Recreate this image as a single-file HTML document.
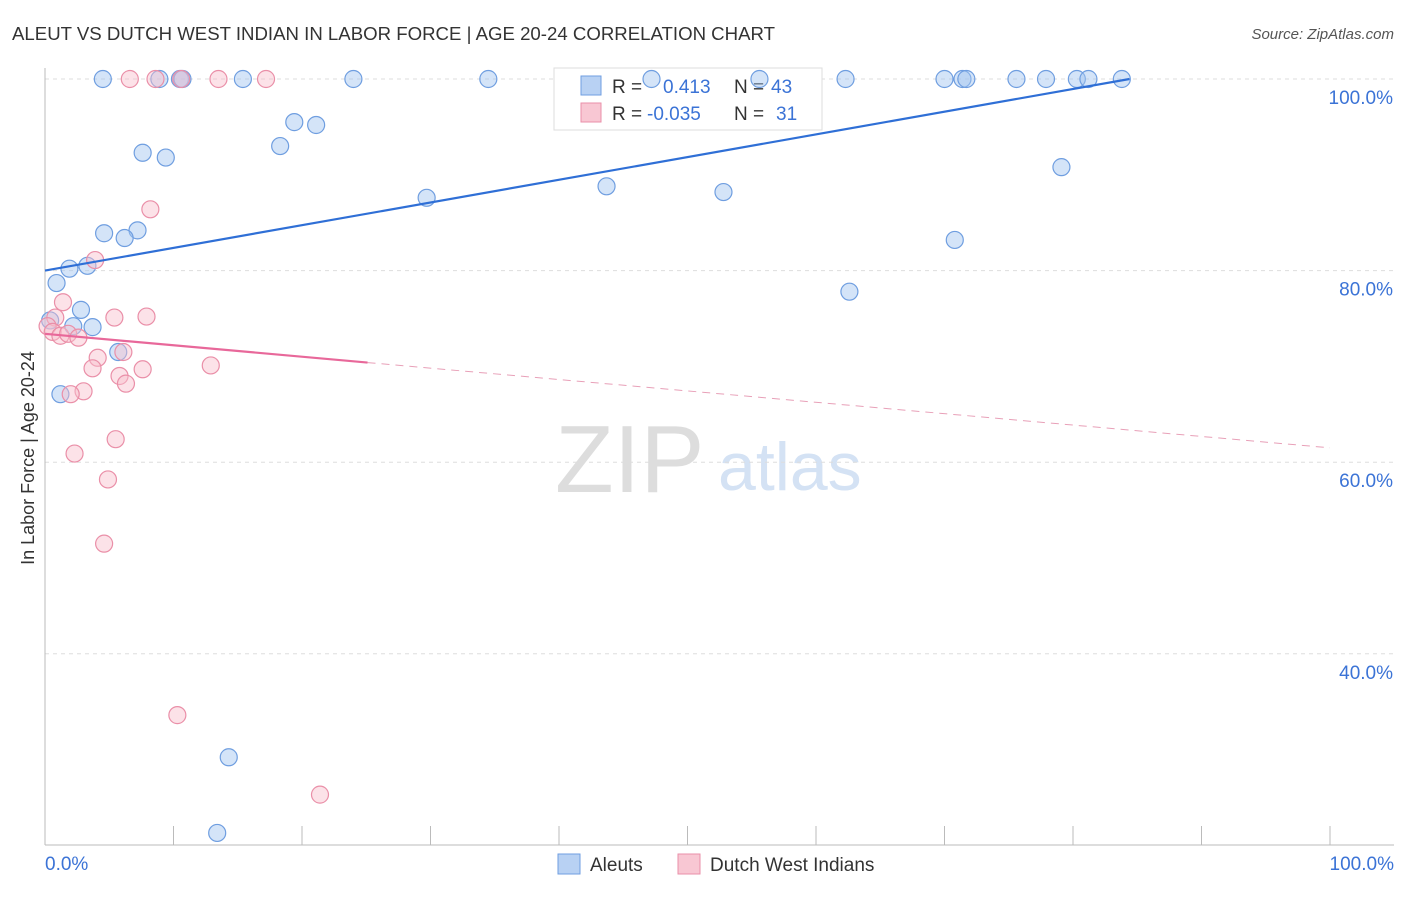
<!DOCTYPE html>
<html><head><meta charset="utf-8"><style>
body{margin:0;background:#fff;font-family:"Liberation Sans",sans-serif}
svg text{font-family:"Liberation Sans",sans-serif}
</style></head><body>
<svg id="c" width="1406" height="892">
<text x="12" y="40" font-size="18.5" fill="#333" textLength="763" lengthAdjust="spacingAndGlyphs">ALEUT VS DUTCH WEST INDIAN IN LABOR FORCE | AGE 20-24 CORRELATION CHART</text>
<text x="1394" y="39" font-size="15" fill="#555" font-style="italic" text-anchor="end">Source: ZipAtlas.com</text>
<text x="34" y="458" font-size="18" fill="#333" text-anchor="middle" transform="rotate(-90 34 458)">In Labor Force | Age 20-24</text>
<text x="555" y="492" font-size="96" fill="#ddd" font-family="Liberation Serif">ZIP</text>
<text x="718" y="490" font-size="68" fill="#d4e2f4">atlas</text>
<g id="grid"></g>
<g>
<rect x="554" y="68" width="268" height="62" fill="#fff" stroke="#ddd"/>
<rect x="581" y="76" width="20" height="19" fill="#b8d1f3" stroke="#6f9ee0"/>
<rect x="581" y="103" width="20" height="19" fill="#f8c7d3" stroke="#ea8fa8"/>
<text x="612" y="93" font-size="19" fill="#333">R = </text><text x="663" y="93" font-size="19" fill="#3b73d6">0.413</text>
<text x="734" y="93" font-size="19" fill="#333">N = </text><text x="771" y="93" font-size="19" fill="#3b73d6">43</text>
<text x="612" y="120" font-size="19" fill="#333">R = </text><text x="647" y="120" font-size="19" fill="#3b73d6">-0.035</text>
<text x="734" y="120" font-size="19" fill="#333">N = </text><text x="776" y="120" font-size="19" fill="#3b73d6">31</text>
</g>
<g id="pts"></g><g id="trend"></g>
<g>
<rect x="558" y="854" width="22" height="20" fill="#b8d1f3" stroke="#6f9ee0"/>
<text x="590" y="871" font-size="19" fill="#333">Aleuts</text>
<rect x="678" y="854" width="22" height="20" fill="#f8c7d3" stroke="#ea8fa8"/>
<text x="710" y="871" font-size="19" fill="#333">Dutch West Indians</text>
</g>
</svg>
<script>
const blueX=[4.5,8.9,10.5,10.7,15.4,24.0,34.5,47.2,55.6,62.3,70.0,71.4,71.7,75.6,77.9,80.3,81.2,83.8,19.4,21.1,18.3,7.6,9.4,79.1,43.7,52.8,29.7,7.2,4.6,6.2,70.8,1.9,3.3,0.9,62.6,2.8,0.4,2.2,3.7,5.7,1.2,14.3,13.4];
const blueY=[100,100,100,100,100,100,100,100,100,100,100,100,100,100,100,100,100,100,95.5,95.2,93.0,92.3,91.8,90.8,88.8,88.2,87.6,84.2,83.9,83.4,83.2,80.2,80.5,78.7,77.8,75.9,74.8,74.2,74.1,71.5,67.1,29.2,21.3];
const pinkX=[6.6,8.6,10.6,13.5,17.2,8.2,3.9,1.4,7.9,5.4,0.8,0.2,0.6,1.2,1.8,2.6,6.1,4.1,12.9,3.7,7.6,5.8,6.3,3.0,2.0,5.5,2.3,4.9,4.6,10.3,21.4];
const pinkY=[100,100,100,100,100,86.4,81.1,76.7,75.2,75.1,75.1,74.2,73.6,73.2,73.4,73.0,71.5,70.9,70.1,69.8,69.7,69.0,68.2,67.4,67.1,62.4,60.9,58.2,51.5,33.6,25.3];
const yTicks=[100,80,60,40];
const blueTrend=[[0,80.0],[84.4,100]];
const pinkTrend=[[0,73.4],[25.1,70.4],[100,61.5]];
const X=v=>45+v*12.85, Y=v=>79+(100-v)*9.58;
const NS="http://www.w3.org/2000/svg";
function mk(t,a,p){const e=document.createElementNS(NS,t);for(const k in a)e.setAttribute(k,a[k]);p.appendChild(e);return e;}
const g=document.getElementById('grid');
yTicks.forEach(t=>{
 const l=mk('line',{x1:45,x2:1394,y1:Y(t),y2:Y(t),stroke:'#ddd','stroke-dasharray':'4,4'},g);
 
 
 const tx=mk('text',{x:1393,y:Y(t)+25,'font-size':19,fill:'#3b73d6','text-anchor':'end'},g);
 tx.textContent=t.toFixed(1)+'%';
 
 
});
mk('line',{x1:45,x2:45,y1:68,y2:845,stroke:'#bbb'},g);
mk('line',{x1:45,x2:1394,y1:845,y2:845,stroke:'#bbb'},g);
for(let i=0;i<=10;i++){const t=mk('line',{x1:X(i*10),x2:X(i*10),y1:826,y2:845,stroke:'#bbb'},g);
 
 }
[[0,'0.0%','start',45],[100,'100.0%','end',1394]].forEach(([v,s,a,x])=>{const t=mk('text',{x:x,y:870,'font-size':19,fill:'#3b73d6','text-anchor':a},g);t.textContent=s;
 
 });
const p=document.getElementById('pts');
blueX.forEach((x,i)=>{const c=mk('circle',{cx:X(x),cy:Y(blueY[i]),r:8.5,fill:'rgba(160,195,240,0.45)',stroke:'#6f9ee0','stroke-width':1.2},p);
 
 });
pinkX.forEach((x,i)=>{const c=mk('circle',{cx:X(x),cy:Y(pinkY[i]),r:8.5,fill:'rgba(248,190,205,0.45)',stroke:'#ea8fa8','stroke-width':1.2},p);
 
 });
const tr=document.getElementById('trend');
const b=mk('line',{x1:X(blueTrend[0][0]),y1:Y(blueTrend[0][1]),x2:X(blueTrend[1][0]),y2:Y(blueTrend[1][1]),stroke:'#2f6fd6','stroke-width':2.2},tr);


const p1=mk('line',{x1:X(pinkTrend[0][0]),y1:Y(pinkTrend[0][1]),x2:X(pinkTrend[1][0]),y2:Y(pinkTrend[1][1]),stroke:'#e8689a','stroke-width':2.2},tr);


const p2=mk('line',{x1:X(pinkTrend[1][0]),y1:Y(pinkTrend[1][1]),x2:X(pinkTrend[2][0]),y2:Y(pinkTrend[2][1]),stroke:'#e8a0b8','stroke-width':1,'stroke-dasharray':'8,6'},tr);


</script>
</body></html>
